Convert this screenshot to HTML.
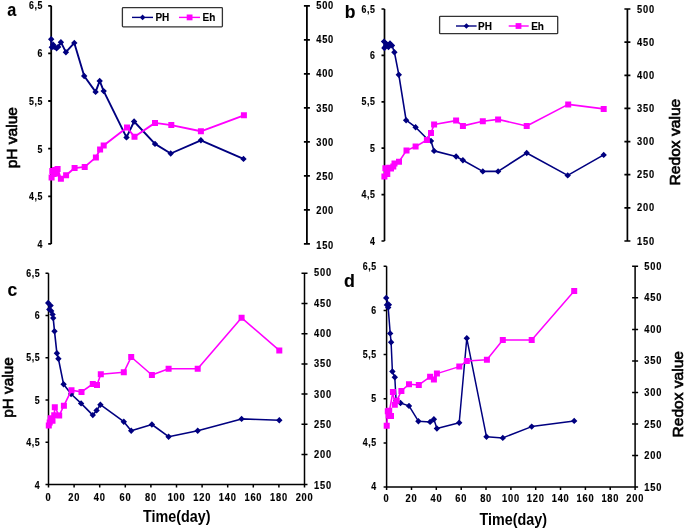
<!DOCTYPE html>
<html lang="en">
<head>
<meta charset="utf-8">
<title>pH and redox value over time</title>
<style>
html,body{margin:0;padding:0;background:#fff;}
body{width:685px;height:530px;overflow:hidden;}
svg{display:block;filter:blur(0.4px);}
svg text{font-family:"Liberation Sans",Arial,Helvetica,sans-serif;font-weight:bold;fill:#000;stroke:#000;stroke-width:0.12px;}
svg text.ax{stroke:none;}
svg text.ay{font-weight:normal;stroke-width:0.65px;}
svg text.t{font-size:10px;letter-spacing:0.7px;stroke-width:0.15px;}
svg text.w{letter-spacing:0.85px;}
</style>
</head>
<body>
<svg width="685" height="530" viewBox="0 0 685 530">
<rect width="685" height="530" fill="#fff"/>
<g id="panel-a">
<path d="M51.2 5.8V243.9M306.9 5.8V243.9M48.2 5.8H51.2M48.2 53.4H51.2M48.2 101.0H51.2M48.2 148.7H51.2M48.2 196.3H51.2M48.2 243.9H51.2M303.9 5.8H309.9M303.9 39.8H309.9M303.9 73.8H309.9M303.9 107.8H309.9M303.9 141.9H309.9M303.9 175.9H309.9M303.9 209.9H309.9M303.9 243.9H309.9" fill="none" stroke="#000" stroke-width="1.8"/>
<text class="t" transform="translate(43.02 9.00) scale(0.88 1)" text-anchor="end">6,5</text>
<text class="t" transform="translate(43.02 56.84) scale(0.88 1)" text-anchor="end">6</text>
<text class="t" transform="translate(43.02 104.68) scale(0.88 1)" text-anchor="end">5,5</text>
<text class="t" transform="translate(43.02 152.52) scale(0.88 1)" text-anchor="end">5</text>
<text class="t" transform="translate(43.02 200.36) scale(0.88 1)" text-anchor="end">4,5</text>
<text class="t" transform="translate(43.02 248.20) scale(0.88 1)" text-anchor="end">4</text>
<text class="t w" transform="translate(316.20 8.80) scale(0.93 1)" text-anchor="start">500</text>
<text class="t w" transform="translate(316.20 43.04) scale(0.93 1)" text-anchor="start">450</text>
<text class="t w" transform="translate(316.20 77.29) scale(0.93 1)" text-anchor="start">400</text>
<text class="t w" transform="translate(316.20 111.53) scale(0.93 1)" text-anchor="start">350</text>
<text class="t w" transform="translate(316.20 145.77) scale(0.93 1)" text-anchor="start">300</text>
<text class="t w" transform="translate(316.20 180.01) scale(0.93 1)" text-anchor="start">250</text>
<text class="t w" transform="translate(316.20 214.26) scale(0.93 1)" text-anchor="start">200</text>
<text class="t w" transform="translate(316.20 248.50) scale(0.93 1)" text-anchor="start">150</text>
<path d="M51.2 39.2L51.8 47.2L53.2 44.8L54.2 46.9L56.6 48.2L58.2 46.9L60.9 42.2L65.9 52.2L74.3 42.9L84.2 76.0L95.6 91.9L99.7 80.9L103.7 91.1L126.5 137.4L134.1 121.5L155.0 143.9L170.7 153.5L200.9 140.3L243.5 158.9" fill="none" stroke="#000080" stroke-width="1.9" stroke-linejoin="round"/>
<path d="M48.0 39.2L51.2 36.0L54.4 39.2L51.2 42.4ZM48.6 47.2L51.8 44.0L55.0 47.2L51.8 50.4ZM50.0 44.8L53.2 41.6L56.4 44.8L53.2 48.0ZM51.0 46.9L54.2 43.7L57.4 46.9L54.2 50.1ZM53.4 48.2L56.6 45.0L59.8 48.2L56.6 51.4ZM55.0 46.9L58.2 43.7L61.4 46.9L58.2 50.1ZM57.7 42.2L60.9 39.0L64.1 42.2L60.9 45.4ZM62.7 52.2L65.9 49.0L69.1 52.2L65.9 55.4ZM71.1 42.9L74.3 39.7L77.5 42.9L74.3 46.1ZM81.0 76.0L84.2 72.8L87.4 76.0L84.2 79.2ZM92.4 91.9L95.6 88.7L98.8 91.9L95.6 95.1ZM96.5 80.9L99.7 77.7L102.9 80.9L99.7 84.1ZM100.5 91.1L103.7 87.9L106.9 91.1L103.7 94.3ZM123.3 137.4L126.5 134.2L129.7 137.4L126.5 140.6ZM130.9 121.5L134.1 118.3L137.3 121.5L134.1 124.7ZM151.8 143.9L155.0 140.7L158.2 143.9L155.0 147.1ZM167.5 153.5L170.7 150.3L173.9 153.5L170.7 156.7ZM197.7 140.3L200.9 137.1L204.1 140.3L200.9 143.5ZM240.3 158.9L243.5 155.7L246.7 158.9L243.5 162.1Z" fill="#000080"/>
<path d="M51.6 177.5L52.3 171.0L53.6 174.0L55.0 170.0L56.3 173.5L57.6 168.9L60.9 178.8L66.1 175.2L74.6 168.1L84.7 166.9L95.9 157.4L100.1 149.5L103.7 145.6L127.0 127.5L134.5 136.8L155.0 122.9L171.3 125.1L200.9 131.3L243.9 115.3" fill="none" stroke="#ff00ff" stroke-width="1.9" stroke-linejoin="round"/>
<path d="M48.6 174.5h6.0v6.0h-6.0ZM49.3 168.0h6.0v6.0h-6.0ZM50.6 171.0h6.0v6.0h-6.0ZM52.0 167.0h6.0v6.0h-6.0ZM53.3 170.5h6.0v6.0h-6.0ZM54.6 165.9h6.0v6.0h-6.0ZM57.9 175.8h6.0v6.0h-6.0ZM63.1 172.2h6.0v6.0h-6.0ZM71.6 165.1h6.0v6.0h-6.0ZM81.7 163.9h6.0v6.0h-6.0ZM92.9 154.4h6.0v6.0h-6.0ZM97.1 146.5h6.0v6.0h-6.0ZM100.7 142.6h6.0v6.0h-6.0ZM124.0 124.5h6.0v6.0h-6.0ZM131.5 133.8h6.0v6.0h-6.0ZM152.0 119.9h6.0v6.0h-6.0ZM168.3 122.1h6.0v6.0h-6.0ZM197.9 128.3h6.0v6.0h-6.0ZM240.9 112.3h6.0v6.0h-6.0Z" fill="#ff00ff"/>
<rect x="122.4" y="7.6" width="100.0" height="19.3" rx="0.8" fill="#fff" stroke="#333" stroke-width="1.3"/>
<path d="M132 17.4H153" stroke="#000080" stroke-width="1.4"/>
<path d="M139.8 17.4L142.6 14.6L145.4 17.4L142.6 20.2Z" fill="#000080"/>
<text x="155.4" y="21.0" font-size="10" text-anchor="start">PH</text>
<path d="M179 17.4H200" stroke="#ff00ff" stroke-width="1.4"/>
<rect x="186.7" y="14.5" width="5.8" height="5.8" fill="#ff00ff"/>
<text x="202.6" y="21.0" font-size="10" text-anchor="start">Eh</text>
<text transform="translate(7.3 16.0) scale(0.9 1)" font-size="18">a</text>
<text class="ay" transform="translate(16.5 137.7) rotate(-90)" font-size="15" text-anchor="middle" textLength="61.3" lengthAdjust="spacingAndGlyphs">pH value</text>
</g>
<g id="panel-b">
<path d="M384.5 9.0V241.0M627.4 9.0V241.0M381.5 9.0H384.5M381.5 55.4H384.5M381.5 101.8H384.5M381.5 148.2H384.5M381.5 194.6H384.5M381.5 241.0H384.5M624.4 9.0H630.4M624.4 42.1H630.4M624.4 75.3H630.4M624.4 108.4H630.4M624.4 141.6H630.4M624.4 174.7H630.4M624.4 207.9H630.4M624.4 241.0H630.4" fill="none" stroke="#000" stroke-width="1.7"/>
<text class="t" transform="translate(375.52 12.60) scale(0.88 1)" text-anchor="end">6,5</text>
<text class="t" transform="translate(375.52 59.00) scale(0.88 1)" text-anchor="end">6</text>
<text class="t" transform="translate(375.52 105.40) scale(0.88 1)" text-anchor="end">5,5</text>
<text class="t" transform="translate(375.52 151.80) scale(0.88 1)" text-anchor="end">5</text>
<text class="t" transform="translate(375.52 198.20) scale(0.88 1)" text-anchor="end">4,5</text>
<text class="t" transform="translate(375.52 244.60) scale(0.88 1)" text-anchor="end">4</text>
<text class="t w" transform="translate(637.00 12.60) scale(0.93 1)" text-anchor="start">500</text>
<text class="t w" transform="translate(637.00 45.74) scale(0.93 1)" text-anchor="start">450</text>
<text class="t w" transform="translate(637.00 78.89) scale(0.93 1)" text-anchor="start">400</text>
<text class="t w" transform="translate(637.00 112.03) scale(0.93 1)" text-anchor="start">350</text>
<text class="t w" transform="translate(637.00 145.17) scale(0.93 1)" text-anchor="start">300</text>
<text class="t w" transform="translate(637.00 178.31) scale(0.93 1)" text-anchor="start">250</text>
<text class="t w" transform="translate(637.00 211.46) scale(0.93 1)" text-anchor="start">200</text>
<text class="t w" transform="translate(637.00 244.60) scale(0.93 1)" text-anchor="start">150</text>
<path d="M384.0 41.6L384.4 48.0L385.5 46.5L387.0 44.5L388.5 47.0L390.0 43.5L392.0 45.5L394.4 52.2L398.8 74.7L406.1 120.2L415.6 127.2L427.8 139.5L431.0 140.9L434.1 150.9L456.1 156.5L462.9 160.2L482.8 171.4L498.1 171.4L526.7 153.0L567.7 175.4L603.7 154.9" fill="none" stroke="#000080" stroke-width="1.6" stroke-linejoin="round"/>
<path d="M380.8 41.6L384.0 38.4L387.2 41.6L384.0 44.8ZM381.2 48.0L384.4 44.8L387.6 48.0L384.4 51.2ZM382.3 46.5L385.5 43.3L388.7 46.5L385.5 49.7ZM383.8 44.5L387.0 41.3L390.2 44.5L387.0 47.7ZM385.3 47.0L388.5 43.8L391.7 47.0L388.5 50.2ZM386.8 43.5L390.0 40.3L393.2 43.5L390.0 46.7ZM388.8 45.5L392.0 42.3L395.2 45.5L392.0 48.7ZM391.2 52.2L394.4 49.0L397.6 52.2L394.4 55.4ZM395.6 74.7L398.8 71.5L402.0 74.7L398.8 77.9ZM402.9 120.2L406.1 117.0L409.3 120.2L406.1 123.4ZM412.4 127.2L415.6 124.0L418.8 127.2L415.6 130.4ZM424.6 139.5L427.8 136.3L431.0 139.5L427.8 142.7ZM427.8 140.9L431.0 137.7L434.2 140.9L431.0 144.1ZM430.9 150.9L434.1 147.7L437.3 150.9L434.1 154.1ZM452.9 156.5L456.1 153.3L459.3 156.5L456.1 159.7ZM459.7 160.2L462.9 157.0L466.1 160.2L462.9 163.4ZM479.6 171.4L482.8 168.2L486.0 171.4L482.8 174.6ZM494.9 171.4L498.1 168.2L501.3 171.4L498.1 174.6ZM523.5 153.0L526.7 149.8L529.9 153.0L526.7 156.2ZM564.5 175.4L567.7 172.2L570.9 175.4L567.7 178.6ZM600.5 154.9L603.7 151.7L606.9 154.9L603.7 158.1Z" fill="#000080"/>
<path d="M384.4 176.4L385.4 168.3L387.3 174.0L389.2 167.7L391.0 168.5L393.3 166.4L394.5 163.6L399.0 161.7L406.5 150.4L415.6 146.6L426.9 140.0L431.0 133.0L434.1 124.5L456.1 120.6L462.9 125.9L482.8 121.3L498.1 119.4L526.7 126.0L568.2 104.4L603.7 108.9" fill="none" stroke="#ff00ff" stroke-width="1.6" stroke-linejoin="round"/>
<path d="M381.4 173.4h6.0v6.0h-6.0ZM382.4 165.3h6.0v6.0h-6.0ZM384.3 171.0h6.0v6.0h-6.0ZM386.2 164.7h6.0v6.0h-6.0ZM388.0 165.5h6.0v6.0h-6.0ZM390.3 163.4h6.0v6.0h-6.0ZM391.5 160.6h6.0v6.0h-6.0ZM396.0 158.7h6.0v6.0h-6.0ZM403.5 147.4h6.0v6.0h-6.0ZM412.6 143.6h6.0v6.0h-6.0ZM423.9 137.0h6.0v6.0h-6.0ZM428.0 130.0h6.0v6.0h-6.0ZM431.1 121.5h6.0v6.0h-6.0ZM453.1 117.6h6.0v6.0h-6.0ZM459.9 122.9h6.0v6.0h-6.0ZM479.8 118.3h6.0v6.0h-6.0ZM495.1 116.4h6.0v6.0h-6.0ZM523.7 123.0h6.0v6.0h-6.0ZM565.2 101.4h6.0v6.0h-6.0ZM600.7 105.9h6.0v6.0h-6.0Z" fill="#ff00ff"/>
<rect x="439.6" y="16.3" width="118.1" height="17.4" rx="0.8" fill="#fff" stroke="#333" stroke-width="1.3"/>
<path d="M456 26H476.6" stroke="#000080" stroke-width="1.4"/>
<path d="M463.6 26.0L466.4 23.2L469.2 26.0L466.4 28.8Z" fill="#000080"/>
<text x="478.0" y="29.6" font-size="10" text-anchor="start">PH</text>
<path d="M508.7 26H528.7" stroke="#ff00ff" stroke-width="1.4"/>
<rect x="515.6" y="23.1" width="5.8" height="5.8" fill="#ff00ff"/>
<text x="531.2" y="29.6" font-size="10" text-anchor="start">Eh</text>
<text transform="translate(344.7 17.8) scale(1.0 1)" font-size="17.5">b</text>
<text class="ay" transform="translate(679.8 185.5) rotate(-90)" font-size="15.5" textLength="86.8" lengthAdjust="spacingAndGlyphs">Redox value</text>
</g>
<g id="panel-c">
<path d="M48.5 273.3V484.6M304.5 273.3V484.6M48.5 484.6H304.5M45.5 273.3H48.5M45.5 315.6H48.5M45.5 357.8H48.5M45.5 400.1H48.5M45.5 442.3H48.5M45.5 484.6H48.5M301.5 273.3H307.5M301.5 303.5H307.5M301.5 333.7H307.5M301.5 363.9H307.5M301.5 394.0H307.5M301.5 424.2H307.5M301.5 454.4H307.5M301.5 484.6H307.5M48.5 484.6V487.6M74.1 484.6V487.6M99.7 484.6V487.6M125.3 484.6V487.6M150.9 484.6V487.6M176.5 484.6V487.6M202.1 484.6V487.6M227.7 484.6V487.6M253.3 484.6V487.6M278.9 484.6V487.6M304.5 484.6V487.6" fill="none" stroke="#000" stroke-width="1.5"/>
<text class="t" transform="translate(40.32 276.50) scale(0.88 1)" text-anchor="end">6,5</text>
<text class="t" transform="translate(40.32 318.92) scale(0.88 1)" text-anchor="end">6</text>
<text class="t" transform="translate(40.32 361.34) scale(0.88 1)" text-anchor="end">5,5</text>
<text class="t" transform="translate(40.32 403.76) scale(0.88 1)" text-anchor="end">5</text>
<text class="t" transform="translate(40.32 446.18) scale(0.88 1)" text-anchor="end">4,5</text>
<text class="t" transform="translate(40.32 488.60) scale(0.88 1)" text-anchor="end">4</text>
<text class="t w" transform="translate(314.10 276.30) scale(0.93 1)" text-anchor="start">500</text>
<text class="t w" transform="translate(314.10 306.63) scale(0.93 1)" text-anchor="start">450</text>
<text class="t w" transform="translate(314.10 336.96) scale(0.93 1)" text-anchor="start">400</text>
<text class="t w" transform="translate(314.10 367.29) scale(0.93 1)" text-anchor="start">350</text>
<text class="t w" transform="translate(314.10 397.61) scale(0.93 1)" text-anchor="start">300</text>
<text class="t w" transform="translate(314.10 427.94) scale(0.93 1)" text-anchor="start">250</text>
<text class="t w" transform="translate(314.10 458.27) scale(0.93 1)" text-anchor="start">200</text>
<text class="t w" transform="translate(314.10 488.60) scale(0.93 1)" text-anchor="start">150</text>
<text class="t" transform="translate(48.40 500.50) scale(0.93 1)" text-anchor="middle">0</text>
<text class="t w" transform="translate(74.20 500.50) scale(0.93 1)" text-anchor="middle">20</text>
<text class="t w" transform="translate(99.80 500.50) scale(0.93 1)" text-anchor="middle">40</text>
<text class="t w" transform="translate(125.40 500.50) scale(0.93 1)" text-anchor="middle">60</text>
<text class="t w" transform="translate(151.00 500.50) scale(0.93 1)" text-anchor="middle">80</text>
<text class="t w" transform="translate(176.60 500.50) scale(0.93 1)" text-anchor="middle">100</text>
<text class="t w" transform="translate(202.20 500.50) scale(0.93 1)" text-anchor="middle">120</text>
<text class="t w" transform="translate(227.80 500.50) scale(0.93 1)" text-anchor="middle">140</text>
<text class="t w" transform="translate(253.40 500.50) scale(0.93 1)" text-anchor="middle">160</text>
<text class="t w" transform="translate(279.00 500.50) scale(0.93 1)" text-anchor="middle">180</text>
<text class="t w" transform="translate(304.60 500.50) scale(0.93 1)" text-anchor="middle">200</text>
<text x="143.1" y="522.0" font-size="15.8" text-anchor="start" class="ax" textLength="67.4" lengthAdjust="spacingAndGlyphs">Time(day)</text>
<path d="M48.2 303.0L50.6 305.6L49.3 309.4L51.2 310.9L52.6 314.4L53.2 318.1L54.5 331.2L56.9 353.3L58.4 358.7L63.6 384.3L71.1 394.0L81.1 403.4L92.8 415.1L96.6 410.4L100.4 404.7L123.8 421.7L131.2 430.7L151.9 424.5L168.6 436.7L197.7 430.8L241.6 418.9L279.3 420.3" fill="none" stroke="#000080" stroke-width="1.6" stroke-linejoin="round"/>
<path d="M45.0 303.0L48.2 299.8L51.4 303.0L48.2 306.2ZM47.4 305.6L50.6 302.4L53.8 305.6L50.6 308.8ZM46.1 309.4L49.3 306.2L52.5 309.4L49.3 312.6ZM48.0 310.9L51.2 307.7L54.4 310.9L51.2 314.1ZM49.4 314.4L52.6 311.2L55.8 314.4L52.6 317.6ZM50.0 318.1L53.2 314.9L56.4 318.1L53.2 321.3ZM51.3 331.2L54.5 328.0L57.7 331.2L54.5 334.4ZM53.7 353.3L56.9 350.1L60.1 353.3L56.9 356.5ZM55.2 358.7L58.4 355.5L61.6 358.7L58.4 361.9ZM60.4 384.3L63.6 381.1L66.8 384.3L63.6 387.5ZM67.9 394.0L71.1 390.8L74.3 394.0L71.1 397.2ZM77.9 403.4L81.1 400.2L84.3 403.4L81.1 406.6ZM89.6 415.1L92.8 411.9L96.0 415.1L92.8 418.3ZM93.4 410.4L96.6 407.2L99.8 410.4L96.6 413.6ZM97.2 404.7L100.4 401.5L103.6 404.7L100.4 407.9ZM120.6 421.7L123.8 418.5L127.0 421.7L123.8 424.9ZM128.0 430.7L131.2 427.5L134.4 430.7L131.2 433.9ZM148.7 424.5L151.9 421.3L155.1 424.5L151.9 427.7ZM165.4 436.7L168.6 433.5L171.8 436.7L168.6 439.9ZM194.5 430.8L197.7 427.6L200.9 430.8L197.7 434.0ZM238.4 418.9L241.6 415.7L244.8 418.9L241.6 422.1ZM276.1 420.3L279.3 417.1L282.5 420.3L279.3 423.5Z" fill="#000080"/>
<path d="M48.8 425.5L49.7 422.6L50.7 418.2L52.5 420.8L54.2 415.2L54.8 407.2L59.2 415.5L63.9 405.7L71.5 390.2L81.5 391.9L92.8 384.0L97.0 384.9L100.8 374.2L123.8 372.3L131.2 357.0L151.9 375.0L168.6 368.8L197.7 368.8L241.6 317.8L279.3 350.4" fill="none" stroke="#ff00ff" stroke-width="1.6" stroke-linejoin="round"/>
<path d="M45.8 422.5h6.0v6.0h-6.0ZM46.7 419.6h6.0v6.0h-6.0ZM47.7 415.2h6.0v6.0h-6.0ZM49.5 417.8h6.0v6.0h-6.0ZM51.2 412.2h6.0v6.0h-6.0ZM51.8 404.2h6.0v6.0h-6.0ZM56.2 412.5h6.0v6.0h-6.0ZM60.9 402.7h6.0v6.0h-6.0ZM68.5 387.2h6.0v6.0h-6.0ZM78.5 388.9h6.0v6.0h-6.0ZM89.8 381.0h6.0v6.0h-6.0ZM94.0 381.9h6.0v6.0h-6.0ZM97.8 371.2h6.0v6.0h-6.0ZM120.8 369.3h6.0v6.0h-6.0ZM128.2 354.0h6.0v6.0h-6.0ZM148.9 372.0h6.0v6.0h-6.0ZM165.6 365.8h6.0v6.0h-6.0ZM194.7 365.8h6.0v6.0h-6.0ZM238.6 314.8h6.0v6.0h-6.0ZM276.3 347.4h6.0v6.0h-6.0Z" fill="#ff00ff"/>
<text transform="translate(7.4 296.4) scale(1.0 1)" font-size="17.5">c</text>
<text class="ay" transform="translate(12.7 387.5) rotate(-90)" font-size="15.4" text-anchor="middle" textLength="60.4" lengthAdjust="spacingAndGlyphs">pH value</text>
</g>
<g id="panel-d">
<path d="M386.6 266.3V487.0M635.1 266.3V487.0M386.6 487.0H635.1M383.6 266.3H386.6M383.6 310.4H386.6M383.6 354.6H386.6M383.6 398.7H386.6M383.6 442.9H386.6M383.6 487.0H386.6M632.1 266.3H638.1M632.1 297.8H638.1M632.1 329.4H638.1M632.1 360.9H638.1M632.1 392.4H638.1M632.1 423.9H638.1M632.1 455.5H638.1M632.1 487.0H638.1M386.6 487.0V490.0M411.5 487.0V490.0M436.3 487.0V490.0M461.2 487.0V490.0M486.0 487.0V490.0M510.9 487.0V490.0M535.7 487.0V490.0M560.5 487.0V490.0M585.4 487.0V490.0M610.2 487.0V490.0M635.1 487.0V490.0" fill="none" stroke="#000" stroke-width="1.5"/>
<text class="t" transform="translate(376.82 269.90) scale(0.88 1)" text-anchor="end">6,5</text>
<text class="t" transform="translate(376.82 313.92) scale(0.88 1)" text-anchor="end">6</text>
<text class="t" transform="translate(376.82 357.94) scale(0.88 1)" text-anchor="end">5,5</text>
<text class="t" transform="translate(376.82 401.96) scale(0.88 1)" text-anchor="end">5</text>
<text class="t" transform="translate(376.82 445.98) scale(0.88 1)" text-anchor="end">4,5</text>
<text class="t" transform="translate(376.82 490.00) scale(0.88 1)" text-anchor="end">4</text>
<text class="t w" transform="translate(644.30 269.90) scale(0.93 1)" text-anchor="start">500</text>
<text class="t w" transform="translate(644.30 301.43) scale(0.93 1)" text-anchor="start">450</text>
<text class="t w" transform="translate(644.30 332.96) scale(0.93 1)" text-anchor="start">400</text>
<text class="t w" transform="translate(644.30 364.49) scale(0.93 1)" text-anchor="start">350</text>
<text class="t w" transform="translate(644.30 396.01) scale(0.93 1)" text-anchor="start">300</text>
<text class="t w" transform="translate(644.30 427.54) scale(0.93 1)" text-anchor="start">250</text>
<text class="t w" transform="translate(644.30 459.07) scale(0.93 1)" text-anchor="start">200</text>
<text class="t w" transform="translate(644.30 490.60) scale(0.93 1)" text-anchor="start">150</text>
<text class="t" transform="translate(386.50 501.90) scale(0.93 1)" text-anchor="middle">0</text>
<text class="t w" transform="translate(411.55 501.90) scale(0.93 1)" text-anchor="middle">20</text>
<text class="t w" transform="translate(436.40 501.90) scale(0.93 1)" text-anchor="middle">40</text>
<text class="t w" transform="translate(461.25 501.90) scale(0.93 1)" text-anchor="middle">60</text>
<text class="t w" transform="translate(486.10 501.90) scale(0.93 1)" text-anchor="middle">80</text>
<text class="t w" transform="translate(510.95 501.90) scale(0.93 1)" text-anchor="middle">100</text>
<text class="t w" transform="translate(535.80 501.90) scale(0.93 1)" text-anchor="middle">120</text>
<text class="t w" transform="translate(560.65 501.90) scale(0.93 1)" text-anchor="middle">140</text>
<text class="t w" transform="translate(585.50 501.90) scale(0.93 1)" text-anchor="middle">160</text>
<text class="t w" transform="translate(610.35 501.90) scale(0.93 1)" text-anchor="middle">180</text>
<text class="t w" transform="translate(635.20 501.90) scale(0.93 1)" text-anchor="middle">200</text>
<text x="479.5" y="525.4" font-size="15.8" text-anchor="start" class="ax" textLength="67.4" lengthAdjust="spacingAndGlyphs">Time(day)</text>
<path d="M386.2 297.9L388.9 304.7L386.9 304.9L388.2 307.6L390.2 333.4L391.1 342.2L392.4 371.5L394.8 377.2L396.1 400.8L400.5 403.0L409.0 405.9L418.4 421.2L430.1 421.9L433.9 419.3L436.9 428.5L459.2 422.7L466.8 338.3L486.5 436.8L502.8 437.9L531.7 426.6L574.2 420.9" fill="none" stroke="#000080" stroke-width="1.5" stroke-linejoin="round"/>
<path d="M383.0 297.9L386.2 294.7L389.4 297.9L386.2 301.1ZM385.7 304.7L388.9 301.5L392.1 304.7L388.9 307.9ZM383.7 304.9L386.9 301.7L390.1 304.9L386.9 308.1ZM385.0 307.6L388.2 304.4L391.4 307.6L388.2 310.8ZM387.0 333.4L390.2 330.2L393.4 333.4L390.2 336.6ZM387.9 342.2L391.1 339.0L394.3 342.2L391.1 345.4ZM389.2 371.5L392.4 368.3L395.6 371.5L392.4 374.7ZM391.6 377.2L394.8 374.0L398.0 377.2L394.8 380.4ZM392.9 400.8L396.1 397.6L399.3 400.8L396.1 404.0ZM397.3 403.0L400.5 399.8L403.7 403.0L400.5 406.2ZM405.8 405.9L409.0 402.7L412.2 405.9L409.0 409.1ZM415.2 421.2L418.4 418.0L421.6 421.2L418.4 424.4ZM426.9 421.9L430.1 418.7L433.3 421.9L430.1 425.1ZM430.7 419.3L433.9 416.1L437.1 419.3L433.9 422.5ZM433.7 428.5L436.9 425.3L440.1 428.5L436.9 431.7ZM456.0 422.7L459.2 419.5L462.4 422.7L459.2 425.9ZM463.6 338.3L466.8 335.1L470.0 338.3L466.8 341.5ZM483.3 436.8L486.5 433.6L489.7 436.8L486.5 440.0ZM499.6 437.9L502.8 434.7L506.0 437.9L502.8 441.1ZM528.5 426.6L531.7 423.4L534.9 426.6L531.7 429.8ZM571.0 420.9L574.2 417.7L577.4 420.9L574.2 424.1Z" fill="#000080"/>
<path d="M386.7 425.8L387.8 411.3L389.2 410.8L391.0 416.0L388.6 415.5L392.9 391.9L394.8 404.7L396.7 400.8L401.4 390.9L409.0 384.3L418.8 384.9L430.1 376.8L433.9 379.6L436.9 373.6L459.3 366.6L466.8 361.0L486.9 359.7L502.8 340.0L531.7 340.0L574.2 291.1" fill="none" stroke="#ff00ff" stroke-width="1.5" stroke-linejoin="round"/>
<path d="M383.7 422.8h6.0v6.0h-6.0ZM384.8 408.3h6.0v6.0h-6.0ZM386.2 407.8h6.0v6.0h-6.0ZM388.0 413.0h6.0v6.0h-6.0ZM385.6 412.5h6.0v6.0h-6.0ZM389.9 388.9h6.0v6.0h-6.0ZM391.8 401.7h6.0v6.0h-6.0ZM393.7 397.8h6.0v6.0h-6.0ZM398.4 387.9h6.0v6.0h-6.0ZM406.0 381.3h6.0v6.0h-6.0ZM415.8 381.9h6.0v6.0h-6.0ZM427.1 373.8h6.0v6.0h-6.0ZM430.9 376.6h6.0v6.0h-6.0ZM433.9 370.6h6.0v6.0h-6.0ZM456.3 363.6h6.0v6.0h-6.0ZM463.8 358.0h6.0v6.0h-6.0ZM483.9 356.7h6.0v6.0h-6.0ZM499.8 337.0h6.0v6.0h-6.0ZM528.7 337.0h6.0v6.0h-6.0ZM571.2 288.1h6.0v6.0h-6.0Z" fill="#ff00ff"/>
<text transform="translate(343.9 286.8) scale(1.02 1)" font-size="17.5">d</text>
<text class="ay" transform="translate(683.2 437.4) rotate(-90)" font-size="15.5" textLength="86.4" lengthAdjust="spacingAndGlyphs">Redox value</text>
</g>
</svg>
</body>
</html>
